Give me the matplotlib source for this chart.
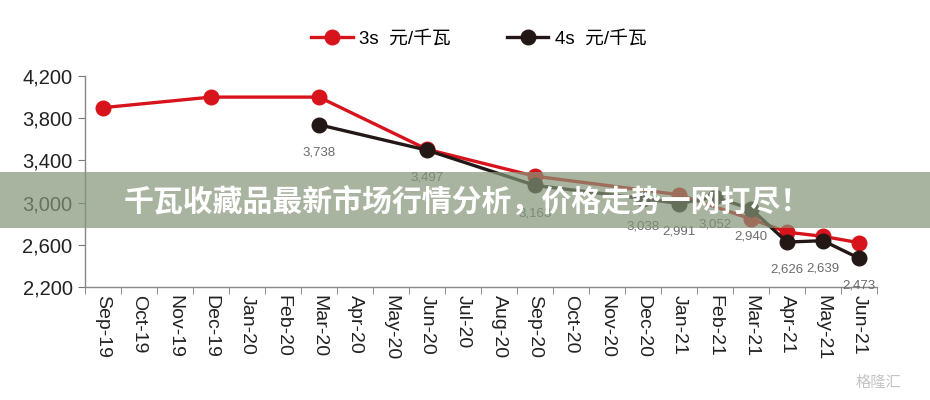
import numpy as np
import matplotlib
matplotlib.use("Agg")
import matplotlib.pyplot as plt
from matplotlib.patches import Rectangle

plt.rcParams['font.family'] = ['Liberation Sans', 'Noto Sans CJK SC', 'DejaVu Sans']

months = ['Sep-19', 'Oct-19', 'Nov-19', 'Dec-19', 'Jan-20', 'Feb-20', 'Mar-20',
          'Apr-20', 'May-20', 'Jun-20', 'Jul-20', 'Aug-20', 'Sep-20', 'Oct-20',
          'Nov-20', 'Dec-20', 'Jan-21', 'Feb-21', 'Mar-21', 'Apr-21', 'May-21',
          'Jun-21']
# None = no data for that month
price_3s = [3900, None, None, 4000, None, None, 4000, None, None, 3505, None, None,
            3250, None, None, None, 3075, None, 2845, 2720, 2680, 2620]
price_4s = [None, None, None, None, None, None, 3738, None, None, 3497, None, None,
            3163, None, None, 3038, 2991, 3052, 2940, 2626, 2639, 2473]

red = '#d7141c'
black = '#231815'

fig = plt.figure(figsize=(9.3, 4), dpi=100)
ax = fig.add_axes([0.0914, 0.2825, 0.8516, 0.5275])

x3 = [i for i, v in enumerate(price_3s) if v is not None]
y3 = [v for v in price_3s if v is not None]
x4 = [i for i, v in enumerate(price_4s) if v is not None]
y4 = [v for v in price_4s if v is not None]

ax.plot(x3, y3, color=red, lw=2.4, marker='o', ms=10.5, label='3s  元/千瓦', zorder=3)
ax.plot(x4, y4, color=black, lw=2.4, marker='o', ms=10.5, label='4s  元/千瓦', zorder=4)

for xi, yi in zip(x4, y4):
    ax.annotate(f'{yi:,}', (xi, yi), xytext=(0, -20), textcoords='offset points',
                ha='center', va='center', fontsize=9.5, color='#6b6b6b', zorder=5)

ax.set_xlim(-0.5, len(months) - 0.5)
ax.set_ylim(2200, 4200)
yt = [2200, 2600, 3000, 3400, 3800, 4200]
ax.set_yticks(yt)
ax.set_yticklabels([f'{v:,}' for v in yt])
ax.set_xticks(range(len(months)))
ax.set_xticklabels(months, rotation=270, fontsize=14, color='#222222')
ax.set_xticks(np.arange(-0.5, len(months), 1), minor=True)
ax.tick_params(axis='x', which='major', length=0, pad=6)
ax.tick_params(axis='x', which='minor', length=5, color='#777777', direction='out')
ax.tick_params(axis='y', length=5, color='#777777', labelsize=14.5, labelcolor='#222222', pad=4)

for s in ['top', 'right']:
    ax.spines[s].set_visible(False)
for s in ['left', 'bottom']:
    ax.spines[s].set_color('#888888')
    ax.spines[s].set_linewidth(1)

fig.legend(loc='upper center', bbox_to_anchor=(0.515, 0.965), ncol=2, frameon=False,
           fontsize=13.5, handlelength=2.2, columnspacing=3.0, handletextpad=0.35)

# overlay banner
fig.add_artist(Rectangle((0, 0.43), 1, 0.14, transform=fig.transFigure,
                         facecolor='#839577', alpha=0.7, edgecolor='none', zorder=10))
fig.text(0.502, 0.493, '千瓦收藏品最新市场行情分析，价格走势一网打尽！', ha='center', va='center',
         fontsize=21.5, color='white', fontweight='heavy',
         family=['Noto Sans CJK SC', 'DejaVu Sans'], zorder=11)

fig.text(0.945, 0.045, '格隆汇', ha='center', va='center', fontsize=11,
         color='#c4c4c4', family=['Noto Sans CJK SC', 'DejaVu Sans'])

fig.savefig('out.png', dpi=100)
